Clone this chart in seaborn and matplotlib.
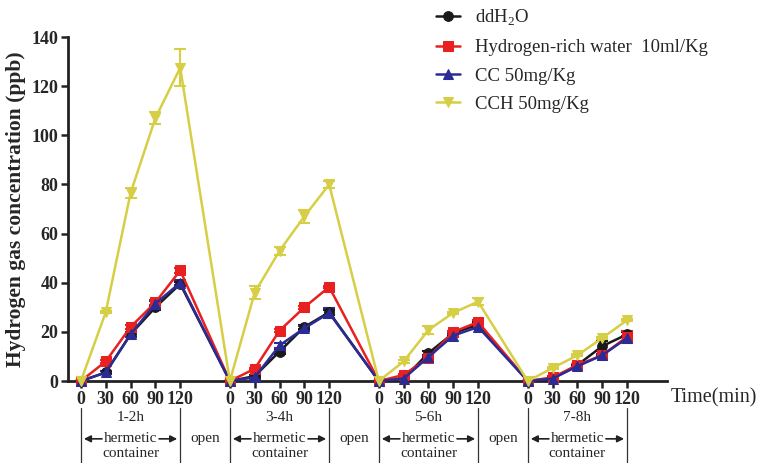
import numpy as np
import pandas as pd
import matplotlib
matplotlib.use("Agg")
import matplotlib.pyplot as plt
import seaborn as sns

sns.set_style("ticks")
plt.rcParams["font.family"] = ["Liberation Serif", "DejaVu Serif"]
plt.rcParams["mathtext.fontset"] = "custom"
plt.rcParams["mathtext.rm"] = "Liberation Serif"

# %% data
time_ticks = ["0", "30", "60", "90", "120"]
periods = ["1-2h", "3-4h", "5-6h", "7-8h"]
series_names = ["ddH$_2$O", "Hydrogen-rich water  10ml/Kg", "CC 50mg/Kg", "CCH 50mg/Kg"]

ddh2o = [0, 3.5, 19, 30, 39.5, 0, 2, 12, 22, 28, 0, 1, 11.4, 19.5, 23, 0, 1, 6.5, 14.2, 19]
ddh2o_err = [0, 0.5, 1, 1, 1, 0, 0.5, 1, 1, 1, 0, 0.5, 1, 1, 1, 0, 0.5, 0.5, 2, 1]
hrw = [0, 8, 22, 32, 45, 0, 5, 20.5, 30, 38.3, 0, 2.5, 9.5, 20, 24, 0, 1.5, 6.5, 10.5, 18]
hrw_err = [0, 0.5, 1, 1, 1, 0, 0.5, 0.5, 0.5, 0.5, 0, 0.5, 0.5, 0.5, 1, 0, 0.5, 0.5, 0.5, 2.5]
cc = [0, 3.5, 19, 31.5, 40, 0, 1.5, 14.5, 21.5, 27.7, 0, 1, 9.8, 18.5, 22, 0, 1, 6, 10.5, 17.5]
cc_err = [0, 0.5, 1, 1, 1, 0, 0.5, 1, 1, 2, 0, 0.5, 0.5, 0.5, 1, 0, 0.5, 0.5, 0.5, 1]
cch = [0, 28, 76.5, 107, 127.5, 0, 36, 53, 67, 80, 0, 8, 20.8, 27.8, 32.3, 0, 5.3, 10.5, 17.5, 24.8]
cch_err = [0, 0.5, 2, 2.5, 7.5, 0, 2.5, 1.5, 2.5, 1.5, 0, 0.5, 1.5, 0.5, 1.5, 0, 0.5, 0.5, 0.5, 0.5]

colors = ["#1a1a1a", "#e82020", "#2b2b96", "#d6cf45"]
markers = ["o", "s", "^", "v"]

# x positions: 5 points per period, one empty slot between periods
pos = [g * 6 + i for g in range(len(periods)) for i in range(len(time_ticks))]

df = pd.DataFrame({
    "pos": pos * 4,
    "value": ddh2o + hrw + cc + cch,
    "err": ddh2o_err + hrw_err + cc_err + cch_err,
    "series": np.repeat(series_names, len(pos)),
})

# %% plot
fig = plt.figure(figsize=(7.58, 4.63), dpi=100)
ax = fig.add_axes([0.0897, 0.177, 0.79, 0.743])

for name, col, mk in zip(series_names, colors, markers):
    sub = df[df["series"] == name]
    ax.errorbar(sub["pos"], sub["value"], yerr=sub["err"], fmt="none",
                ecolor=col, elinewidth=1.5, capsize=4, capthick=1.5, zorder=2)
    sns.lineplot(data=sub, x="pos", y="value", ax=ax, color=col, marker=mk,
                 markersize=7, markeredgecolor=col, linewidth=1.8, label=name,
                 clip_on=False, zorder=3)

ax.set_xlim(-0.52, 23.6)
ax.set_ylim(0, 140)
ax.set_yticks(np.arange(0, 141, 20))
ax.set_xticks(pos)
ax.set_xticklabels(time_ticks * len(periods))
for lbl in ax.get_xticklabels() + ax.get_yticklabels():
    lbl.set_fontweight("bold")
    lbl.set_fontsize(13)
ax.tick_params(axis="both", width=1.8, length=5, color="#222222", pad=2)
ax.set_xlabel("")
ax.set_ylabel("Hydrogen gas concentration (ppb)", fontsize=15.5, fontweight="bold", labelpad=4)
for s in ["top", "right"]:
    ax.spines[s].set_visible(False)
for s in ["left", "bottom"]:
    ax.spines[s].set_linewidth(2)
    ax.spines[s].set_color("#222222")

ax.text(23.75, -0.05, "Time(min)", transform=ax.get_xaxis_transform(),
        fontsize=14.5, ha="left", va="center", clip_on=False)

# period annotations under the axis
trans = ax.get_xaxis_transform()
for g, per in enumerate(periods):
    x0, x1 = g * 6, g * 6 + 4
    for xv in (x0, x1):
        ax.plot([xv, xv], [-0.078, -0.245], transform=trans, color="#333333",
                linewidth=0.9, clip_on=False)
    xm = (x0 + x1) / 2
    ax.text(xm, -0.106, per, transform=trans, ha="center", va="center", fontsize=11)
    ax.text(xm, -0.166, "hermetic", transform=trans, ha="center", va="center", fontsize=11)
    ax.text(xm, -0.212, "container", transform=trans, ha="center", va="center", fontsize=11)
    for xs, xe in ((xm - 1.15, x0 + 0.12), (xm + 1.15, x1 - 0.12)):
        ax.annotate("", xy=(xe, -0.168), xytext=(xs, -0.168), xycoords=trans,
                    textcoords=trans,
                    arrowprops=dict(arrowstyle="-|>", color="#222222", lw=1.2,
                                    mutation_scale=10, shrinkA=0, shrinkB=0))
    if g < len(periods) - 1:
        ax.text(x1 + 1, -0.166, "open", transform=trans, ha="center", va="center",
                fontsize=11)

leg = ax.legend(loc="upper left", bbox_to_anchor=(0.565, 1.0), bbox_transform=fig.transFigure,
                frameon=False, fontsize=13.5, handlelength=1.3, handletextpad=0.8,
                labelspacing=0.6, borderaxespad=0)

fig.savefig("out.png", dpi=100)
